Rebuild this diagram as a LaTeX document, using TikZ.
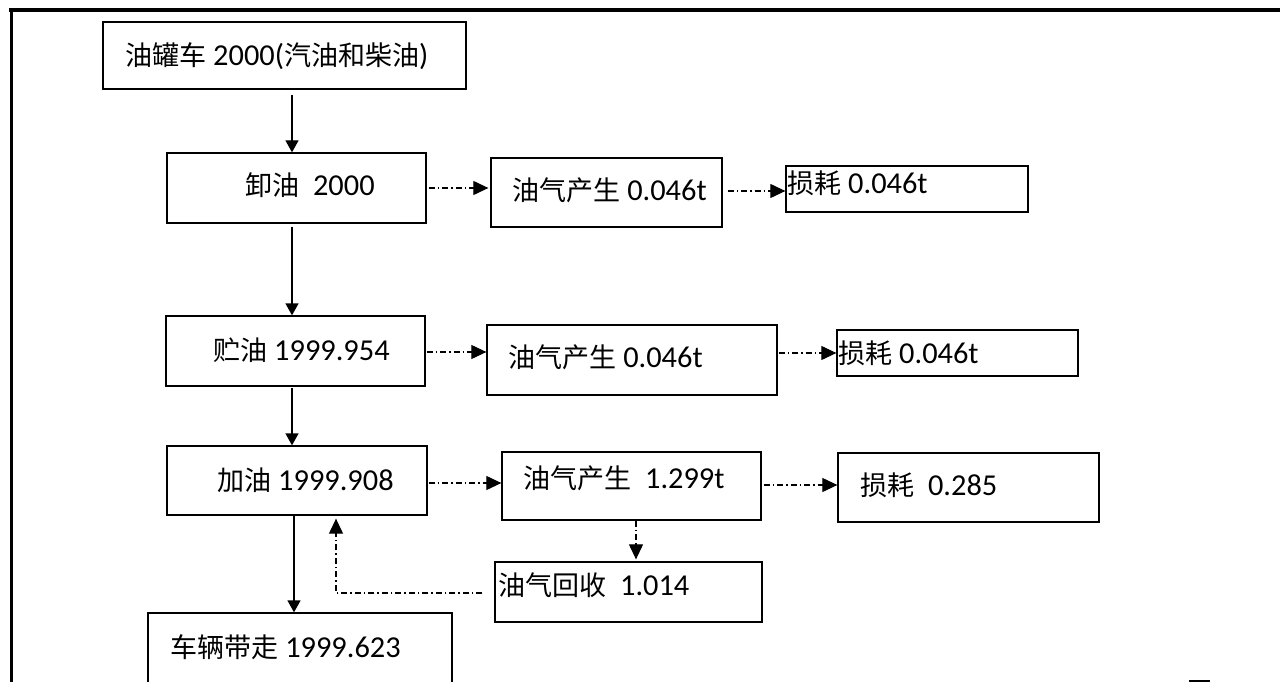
\documentclass[tikz,border=0pt]{standalone}
\usepackage{fontspec}
\setmainfont{Carlito}
\newfontfamily\cjk[Scale=0.89]{Noto Sans CJK SC}
\newcommand\zh[1]{{\cjk #1}}
\newcommand\lblfont{\fontsize{22.5pt}{27pt}\selectfont}
\usetikzlibrary{arrows.meta,calc,fit}

\tikzset{
  box/.style={draw, line width=1.3pt, inner sep=0pt},
  txt/.style={anchor=west, inner sep=0pt, font=\lblfont, scale=1.35},
  flow/.style={line width=1.3pt, -{Triangle[length=12pt,width=13pt]}},
  gas/.style={line width=1.1pt, dash pattern=on 6pt off 3pt on 1.5pt off 3pt,
              -{Triangle[length=15pt,width=14pt]}},
}

% box given by its corners (left, top) and (right, bottom)
\newcommand\pbox[5]{\node[box, fit={(#2,#3) (#4,#5)}] (#1) {};}

\begin{document}
\begin{tikzpicture}[x=1pt,y=-1pt]
\useasboundingbox (0,0) rectangle (1280,682);
\fill[white] (0,0) rectangle (1280,682);

% frame
\draw[line width=4pt] (9,10) -- (1280,10);
\draw[line width=3pt] (11,8) -- (11,682);
\draw[line width=2pt] (1189,680.5) -- (1210,680.5);

% main column
\pbox{b1}{103}{22}{466}{89}
\pbox{b2}{167}{153}{426}{223}
\pbox{b3}{166}{316}{425}{386}
\pbox{b4}{167}{446}{427}{515}
\pbox{b5}{148}{613}{452}{700}

% side boxes
\pbox{g1}{491}{158}{722}{227}
\pbox{l1}{786}{166}{1028}{212}
\pbox{g2}{487}{325}{777}{395}
\pbox{l2}{837}{330}{1078}{376}
\pbox{g3}{502}{452}{761}{520}
\pbox{l3}{838}{453}{1099}{522}
\pbox{r}{495}{562}{762}{622}

% labels
\node[txt] (t1) at (125,56) {\zh{油罐车} 2000(\zh{汽油和柴油})};
\node[txt] (t2) at (245,185) {\zh{卸油}\ \ 2000};
\node[txt] (t3) at (213,350) {\zh{贮油} 1999.954};
\node[txt] (t4) at (217,480) {\zh{加油} 1999.908};
\node[txt] (t5) at (170,647) {\zh{车辆带走} 1999.623};
\node[txt] (tg1) at (512,190) {\zh{油气产生} 0.046t};
\node[txt] (tl1) at (787,183) {\zh{损耗} 0.046t};
\node[txt] (tg2) at (508,357) {\zh{油气产生} 0.046t};
\node[txt] (tl2) at (838,353) {\zh{损耗} 0.046t};
\node[txt] (tg3) at (523,478) {\zh{油气产生}\ \ 1.299t};
\node[txt] (tl3) at (860,485) {\zh{损耗}\ \ 0.285};
\node[txt] (tr) at (498,585) {\zh{油气回收}\ \ 1.014};

% connector columns
\coordinate (cx) at (292,0);
\coordinate (cx5) at (294,0);
\coordinate (gx) at (636,0);
\coordinate (rx) at (336,0);
\coordinate (y1) at (0,188);
\coordinate (y1b) at (0,191);
\coordinate (y2) at (0,352);
\coordinate (y2b) at (0,353);
\coordinate (y3) at (0,483);
\coordinate (y3b) at (0,485);
\coordinate (yr) at (0,593);

% solid flow
\draw[flow, shorten <=5pt] (b1.south -| cx) -- (b2.north -| cx);
\draw[flow, shorten <=3pt] (b2.south -| cx) -- (b3.north -| cx);
\draw[flow, shorten <=1pt] (b3.south -| cx) -- (b4.north -| cx);
\draw[flow] (b4.south -| cx5) -- (b5.north -| cx5);

% vapour flow
\draw[gas, shorten <=2pt, shorten >=2pt] (b2.east |- y1) -- (g1.west |- y1);
\draw[gas, shorten <=5pt] (g1.east |- y1b) -- (l1.west |- y1b);
\draw[gas, shorten <=1pt] (b3.east |- y2) -- (g2.west |- y2);
\draw[gas, shorten <=1pt] (g2.east |- y2b) -- (l2.west |- y2b);
\draw[gas, shorten <=1pt] (b4.east |- y3) -- (g3.west |- y3);
\draw[gas, shorten <=2pt] (g3.east |- y3b) -- (l3.west |- y3b);
\draw[gas, shorten >=2pt] (g3.south -| gx) -- (r.north -| gx);
\draw[gas, shorten <=12pt, shorten >=3pt] (r.west |- yr) -| (b4.south -| rx);
\end{tikzpicture}
\end{document}
